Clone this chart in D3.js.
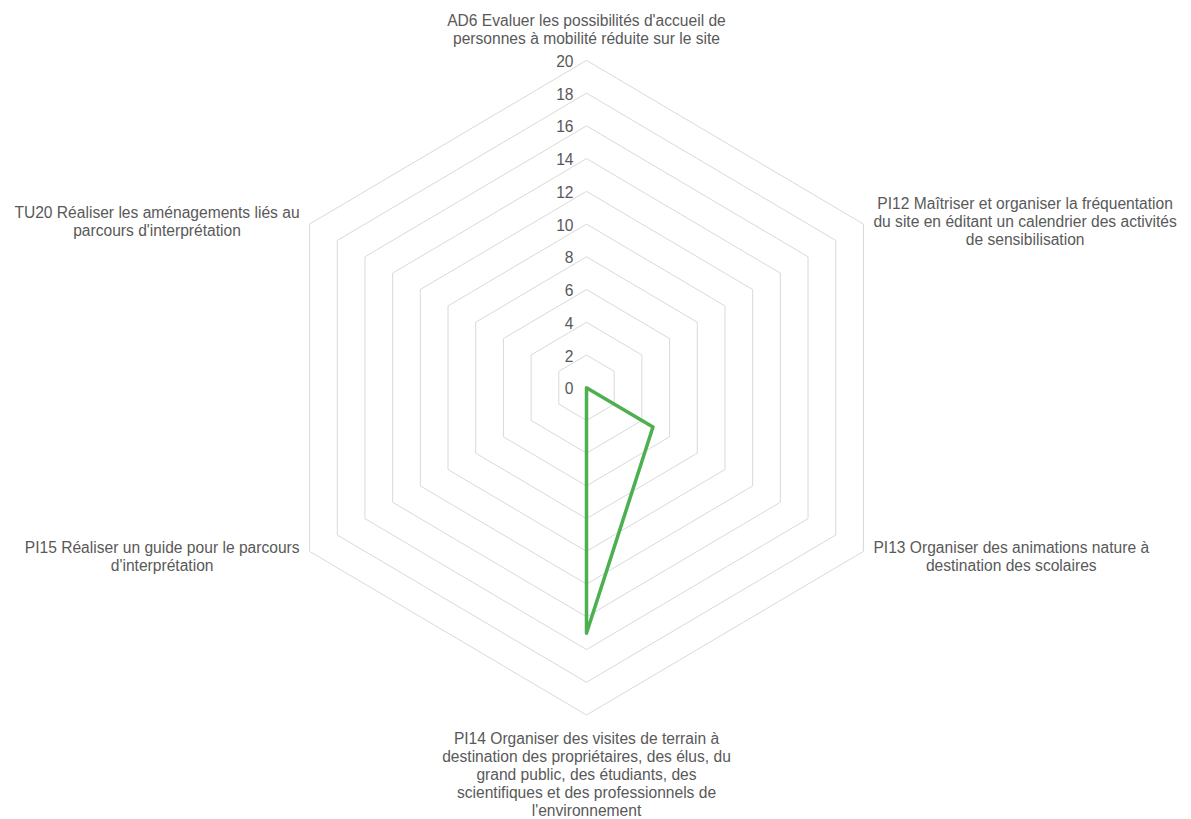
<!DOCTYPE html>
<html><head><meta charset="utf-8">
<script src="https://cdn.jsdelivr.net/npm/d3@7"></script>
<style>
html,body{margin:0;padding:0;background:#fff;}
svg{display:block;font-family:"Liberation Sans",Arial,sans-serif;}
</style></head>
<body><svg id="chart" width="1191" height="819"></svg>
<script>
const categories = [
  ["AD6 Evaluer les possibilités d'accueil de", "personnes à mobilité réduite sur le site"],
  ["PI12 Maîtriser et organiser la fréquentation", "du site en éditant un calendrier des activités", "de sensibilisation"],
  ["PI13 Organiser des animations nature à", "destination des scolaires"],
  ["PI14 Organiser des visites de terrain à", "destination des propriétaires, des élus, du", "grand public, des étudiants, des", "scientifiques et des professionnels de", "l'environnement"],
  ["PI15 Réaliser un guide pour le parcours", "d'interprétation"],
  ["TU20 Réaliser les aménagements liés au", "parcours d'interprétation"]
];
const values = [0, 0, 4.8, 15, 0, 0];
const tickValues = [0, 2, 4, 6, 8, 10, 12, 14, 16, 18, 20];

const svg = d3.select("#chart");
const cx = 586.5, cy = 387.7, R = 327.3, sx = 0.977;
const r = d3.scaleLinear().domain([0, 20]).range([0, R]);
const n = categories.length;
const ang = d3.scaleLinear().domain([0, n]).range([0, 2 * Math.PI]);
const pt = (i, v) => [cx + sx * r(v) * Math.sin(ang(i)), cy - r(v) * Math.cos(ang(i))];

const grid = svg.append("g");
tickValues.filter(t => t > 0).forEach(t => {
  grid.append("path")
    .attr("d", d3.line()(d3.range(n).map(i => pt(i, t))) + "Z")
    .attr("fill", "none").attr("stroke", "#d9d9d9").attr("stroke-width", 1);
});

svg.append("g").selectAll("text").data(tickValues).join("text")
  .attr("x", cx - 13).attr("y", t => pt(0, t)[1] + 2.5)
  .attr("text-anchor", "end").attr("dominant-baseline", "middle")
  .attr("font-size", 15.6).attr("fill", "#595959").text(t => t);

const line = d3.line().curve(d3.curveLinearClosed);
svg.append("path")
  .attr("d", line(values.map((v, i) => pt(i, v))))
  .attr("fill", "none").attr("stroke", "#4caf50").attr("stroke-width", 3.5)
  .attr("stroke-linejoin", "round").attr("stroke-linecap", "round");

const lh = 18, fs = 15.6;
const lab = svg.append("g").attr("font-size", fs).attr("fill", "#595959");
categories.forEach((lines, i) => {
  const [vx, vy] = pt(i, 20);
  const g = lab.append("g");
  const texts = lines.map((s, k) => g.append("text").attr("text-anchor", "middle")
    .attr("dominant-baseline", "middle").text(s));
  const w = d3.max(texts, t => t.node().getComputedTextLength());
  const h = lines.length * lh;
  const sin = Math.sin(ang(i)), cos = Math.cos(ang(i));
  let x0, y0;
  if (Math.abs(sin) < 1e-6) {
    x0 = vx;
    y0 = cos > 0 ? vy - 12 - h + lh / 2 : vy + 25;
  } else {
    x0 = vx + (sin > 0 ? 1 : -1) * (10 + w / 2);
    y0 = vy - h / 2 + lh / 2 + (cos > 0 ? -1 : 7);
  }
  texts.forEach((t, k) => t.attr("x", x0).attr("y", y0 + k * lh));
});
</script></body></html>
